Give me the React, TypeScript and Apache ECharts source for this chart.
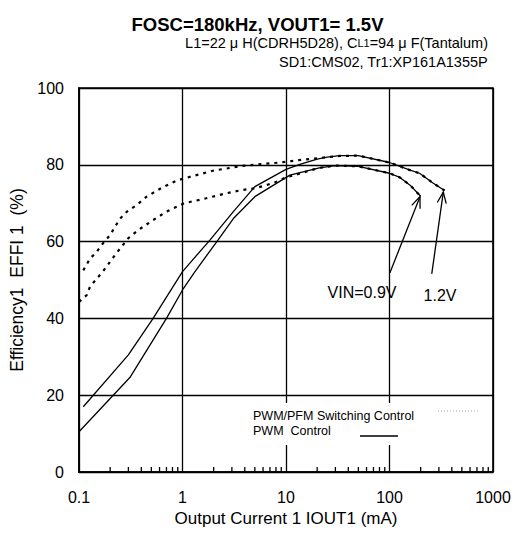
import React, { useEffect, useRef } from "react";
import * as echarts from "echarts";

// ---- data ----
const xTickLabels = ["0.1", "1", "10", "100", "1000"];
const yTickLabels = ["0", "20", "40", "60", "80", "100"];

// PWM control, VIN = 1.2V (solid, upper)
const pwm12X = [0.11, 0.3, 0.52, 1, 1.84, 3.1, 5, 10, 13.6, 20, 25, 33, 50, 100, 158, 195, 265, 340];
const pwm12Y = [17, 30.5, 40, 52.2, 60.4, 67.8, 74.3, 78.8, 80.1, 81.5, 82, 82.4, 82.4, 80.6, 78.6, 77.8, 75.2, 73.3];

// PWM control, VIN = 0.9V (solid, lower)
const pwm09X = [0.1, 0.31, 0.7, 1, 1.32, 2.2, 3.1, 5, 10.9, 21, 30, 50, 100, 126, 158, 200];
const pwm09Y = [10.5, 24.6, 40, 47.4, 52.2, 60.4, 66, 71.7, 77.3, 79.2, 79.8, 79.6, 77.8, 76.7, 74.7, 71.8];

// PWM/PFM switching control, VIN = 1.2V (dotted, upper)
const pfm12X = [0.11, 0.128, 0.148, 0.17, 0.2, 0.223, 0.25, 0.29, 0.36, 0.45, 0.63, 0.88, 1.27, 2, 4, 8.8, 13.2, 20, 33, 50, 100, 158, 195, 265, 340];
const pfm12Y = [52.5, 55.6, 57.3, 59.5, 61.7, 63.9, 66, 67.8, 69.5, 71.7, 74, 75.9, 77.1, 78.5, 79.8, 80.6, 81.2, 81.7, 82.3, 82.4, 80.6, 78.6, 77.8, 75.2, 73.3];

// PWM/PFM switching control, VIN = 0.9V (dotted, lower)
const pfm09X = [0.1, 0.119, 0.128, 0.148, 0.17, 0.223, 0.258, 0.3, 0.374, 0.52, 0.7, 1.04, 1.59, 2.67, 3.7, 5, 6.5, 8.1, 10, 21, 30, 50, 100, 126, 158, 200];
const pfm09Y = [44.3, 46.1, 48.3, 50.3, 52.2, 56.5, 58.7, 60.9, 63, 65.6, 67.8, 70, 71.1, 72.6, 73.4, 73.9, 74.7, 75.6, 76.7, 79.2, 79.8, 79.6, 77.8, 76.7, 74.7, 71.8];

// minor tick positions on the log x axis
const minorTickX = [
  0.2, 0.3, 0.4, 0.5, 0.6, 0.7, 0.8, 0.9,
  2, 3, 4, 5, 6, 7, 8, 9,
  20, 30, 40, 50, 60, 70, 80, 90,
  200, 300, 400, 500, 600, 700, 800, 900,
];

// annotation arrows (tail -> tip)
const arrowTailX = [101, 256];
const arrowTailY = [51.9, 51.6];
const arrowTipX = [197, 331];
const arrowTipY = [71.7, 72.9];

const FONT = '"Liberation Sans", Arial, Helvetica, sans-serif';

const zip = (xs: number[], ys: number[]) => xs.map((x, i) => [x, ys[i]]);

export default function App() {
  const ref = useRef<HTMLDivElement>(null);

  useEffect(() => {
    if (!ref.current) return;
    const chart = echarts.init(ref.current, undefined, { renderer: "svg" });

    const solidStyle = { color: "#000", width: 1.3, type: "solid" as const };
    const dotStyle = { color: "#000", width: 2.2, type: [3, 5] as any };

    const option: any = {
      animation: false,
      backgroundColor: "#fff",
      title: [
        {
          text: "FOSC=180kHz, VOUT1= 1.5V",
          left: "center",
          top: 10,
          textStyle: { fontFamily: FONT, fontSize: 18.5, fontWeight: "bold", color: "#000" },
        },
        {
          text: "L1=22 μ H(CDRH5D28), C{s|L1}=94 μ F(Tantalum)",
          right: 22,
          top: 30,
          textStyle: {
            fontFamily: FONT,
            fontSize: 14.5,
            fontWeight: "normal",
            color: "#000",
            rich: { s: { fontFamily: FONT, fontSize: 11, fontWeight: "normal", color: "#000" } },
          },
        },
        {
          text: "SD1:CMS02, Tr1:XP161A1355P",
          right: 22,
          top: 49,
          textStyle: { fontFamily: FONT, fontSize: 14.5, fontWeight: "normal", color: "#000" },
        },
      ],
      grid: {
        left: 79,
        right: 22,
        top: 88,
        bottom: 70,
        show: true,
        borderColor: "#000",
        borderWidth: 1.6,
        backgroundColor: "transparent",
      },
      xAxis: {
        type: "log",
        logBase: 10,
        min: 0.1,
        max: 1000,
        name: "Output Current 1 IOUT1 (mA)",
        nameLocation: "middle",
        nameGap: 38,
        nameTextStyle: { fontFamily: FONT, fontSize: 17, color: "#000" },
        axisLine: { show: true, lineStyle: { color: "#000", width: 1.6 } },
        axisTick: { show: false },
        axisLabel: {
          fontFamily: FONT,
          fontSize: 16,
          color: "#000",
          margin: 17,
          formatter: (_v: number, i: number) => xTickLabels[i] ?? "",
        },
        splitLine: { show: true, lineStyle: { color: "#000", width: 1.3 } },
      },
      yAxis: {
        type: "value",
        min: 0,
        max: 100,
        interval: 20,
        name: "Efficiency1  EFFI 1  (%)",
        nameLocation: "middle",
        nameGap: 46,
        nameTextStyle: { fontFamily: FONT, fontSize: 17.5, color: "#000" },
        axisLine: { show: true, lineStyle: { color: "#000", width: 1.6 } },
        axisTick: { show: false },
        axisLabel: {
          fontFamily: FONT,
          fontSize: 16,
          color: "#000",
          margin: 15,
          formatter: (_v: number, i: number) => yTickLabels[i] ?? "",
        },
        splitLine: { show: true, lineStyle: { color: "#000", width: 1.3 } },
      },
      series: [
        {
          type: "custom",
          name: "minorTicks",
          silent: true,
          clip: false,
          z: 8,
          encode: { x: 0, y: 1 },
          data: minorTickX.map((x) => [x, 0]),
          renderItem: (_p: any, api: any) => {
            const pt = api.coord([api.value(0), api.value(1)]);
            return {
              type: "line",
              shape: { x1: pt[0], y1: pt[1], x2: pt[0], y2: pt[1] - 5 },
              style: { stroke: "#000", lineWidth: 1.3 },
            };
          },
        },
        {
          type: "line",
          name: "PWM 1.2V",
          data: zip(pwm12X, pwm12Y),
          showSymbol: false,
          lineStyle: solidStyle,
          silent: true,
          z: 3,
        },
        {
          type: "line",
          name: "PWM 0.9V",
          data: zip(pwm09X, pwm09Y),
          showSymbol: false,
          lineStyle: solidStyle,
          silent: true,
          z: 3,
        },
        {
          type: "line",
          name: "PWM/PFM 1.2V",
          data: zip(pfm12X, pfm12Y),
          showSymbol: false,
          lineStyle: dotStyle,
          silent: true,
          z: 4,
        },
        {
          type: "line",
          name: "PWM/PFM 0.9V",
          data: zip(pfm09X, pfm09Y),
          showSymbol: false,
          lineStyle: dotStyle,
          silent: true,
          z: 4,
        },
        {
          type: "custom",
          name: "arrows",
          silent: true,
          z: 6,
          encode: { x: [0, 2], y: [1, 3] },
          data: arrowTailX.map((x, i) => [x, arrowTailY[i], arrowTipX[i], arrowTipY[i]]),
          renderItem: (_p: any, api: any) => {
            const a = api.coord([api.value(0), api.value(1)]);
            const b = api.coord([api.value(2), api.value(3)]);
            const ang = Math.atan2(b[1] - a[1], b[0] - a[0]);
            const L = 12;
            const h = (22 * Math.PI) / 180;
            const p1 = [b[0] - L * Math.cos(ang - h), b[1] - L * Math.sin(ang - h)];
            const p2 = [b[0] - L * Math.cos(ang + h), b[1] - L * Math.sin(ang + h)];
            return {
              type: "group",
              children: [
                {
                  type: "line",
                  shape: { x1: a[0], y1: a[1], x2: b[0], y2: b[1] },
                  style: { stroke: "#000", lineWidth: 1.3 },
                },
                {
                  type: "polyline",
                  shape: { points: [p1, b, p2] },
                  style: { stroke: "#000", lineWidth: 1.3, fill: null },
                },
              ],
            };
          },
        },
      ],
      graphic: [
        {
          type: "rect",
          shape: { x: 245, y: 403, width: 244, height: 42 },
          style: { fill: "#fff" },
          z: 10,
          silent: true,
        },
        {
          type: "text",
          x: 253,
          y: 416,
          z: 11,
          style: {
            text: "PWM/PFM Switching Control",
            fontFamily: FONT,
            fontSize: 12.5,
            fill: "#000",
            verticalAlign: "middle",
          },
        },
        {
          type: "line",
          z: 11,
          shape: { x1: 438, y1: 411, x2: 480, y2: 411 },
          style: { stroke: "#aaa", lineWidth: 1, lineDash: [1, 2] },
        },
        {
          type: "text",
          x: 253,
          y: 431,
          z: 11,
          style: {
            text: "PWM  Control",
            fontFamily: FONT,
            fontSize: 12.5,
            fill: "#000",
            verticalAlign: "middle",
          },
        },
        {
          type: "line",
          z: 11,
          shape: { x1: 360, y1: 436, x2: 398, y2: 436 },
          style: { stroke: "#000", lineWidth: 1.4 },
        },
        {
          type: "text",
          x: 362,
          y: 292,
          z: 11,
          style: {
            text: "VIN=0.9V",
            fontFamily: FONT,
            fontSize: 16,
            fill: "#000",
            align: "center",
            verticalAlign: "middle",
          },
        },
        {
          type: "text",
          x: 440,
          y: 295,
          z: 11,
          style: {
            text: "1.2V",
            fontFamily: FONT,
            fontSize: 16,
            fill: "#000",
            align: "center",
            verticalAlign: "middle",
          },
        },
      ],
    };

    chart.setOption(option);
    return () => chart.dispose();
  }, []);

  return (
    <div
      ref={ref}
      style={{ position: "fixed", left: 0, top: 0, width: 515, height: 542, background: "#fff" }}
    />
  );
}
